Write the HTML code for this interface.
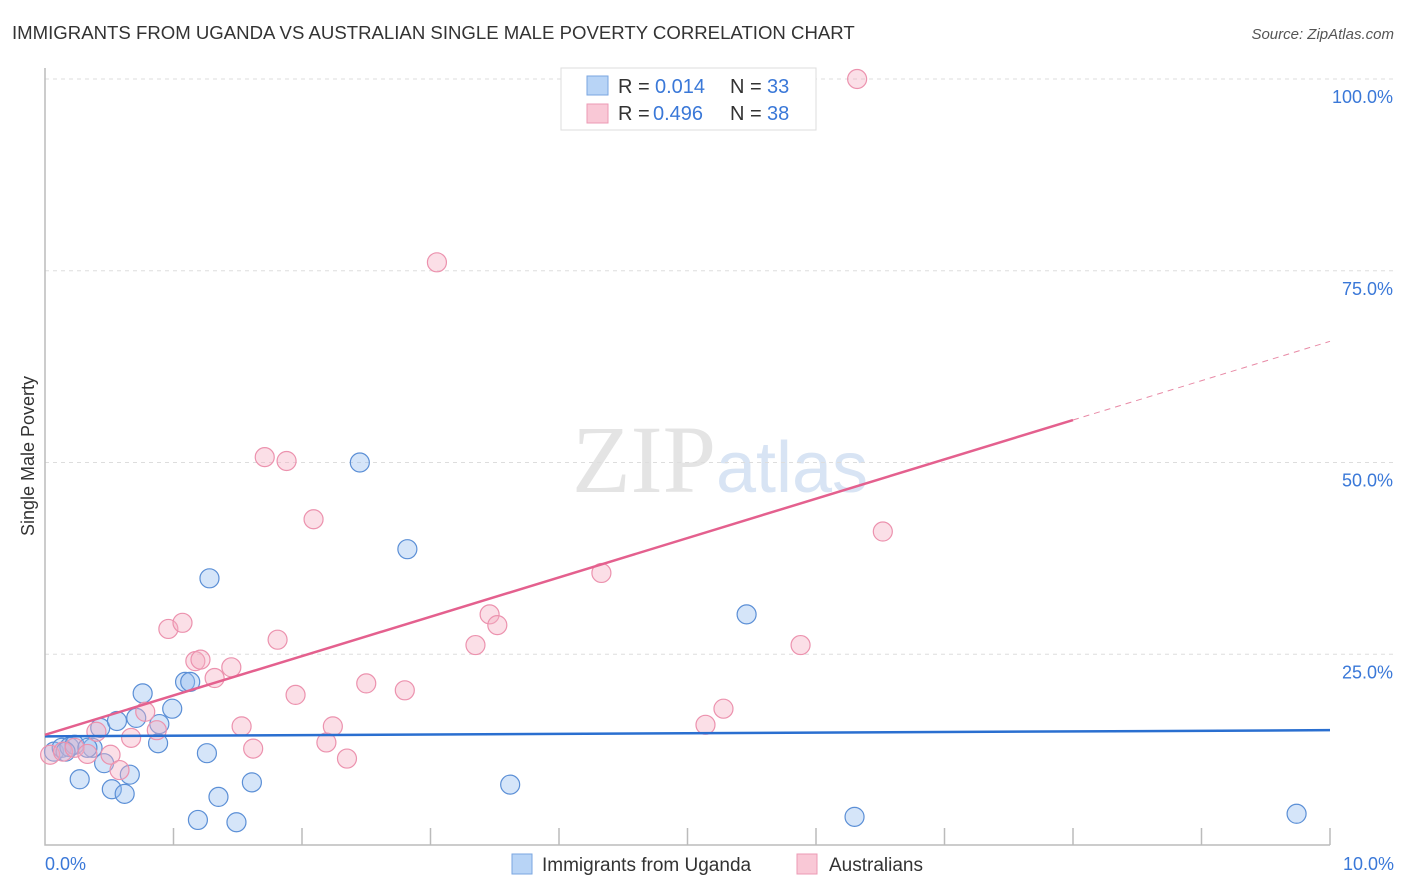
<!DOCTYPE html>
<html><head><meta charset="utf-8"><style>
body{margin:0;background:#fff;font-family:"Liberation Sans",sans-serif;}
svg{display:block}
</style></head><body>
<svg width="1406" height="892">
<text x="12" y="39" font-size="18.6" fill="#333">IMMIGRANTS FROM UGANDA VS AUSTRALIAN SINGLE MALE POVERTY CORRELATION CHART</text>
<text x="1394" y="39" font-size="15" fill="#555" font-style="italic" text-anchor="end">Source: ZipAtlas.com</text>
<text x="720" y="492" font-size="96" fill="#e4e4e4" text-anchor="middle" font-family="Liberation Serif,serif">ZIP<tspan fill="#d8e4f4" font-family="Liberation Sans,sans-serif" font-size="72">atlas</tspan></text>
<g id="grid"></g>
<g id="axes"></g>
<g id="marks"></g>
<text transform="translate(34,456) rotate(-90)" font-size="18" fill="#333" text-anchor="middle">Single Male Poverty</text>
<g>
<rect x="561" y="68" width="255" height="62" fill="#fff" stroke="#ddd"/>
<rect x="587" y="76" width="21" height="19" fill="#b8d4f6" stroke="#7aa6e0"/>
<rect x="587" y="104" width="21" height="19" fill="#f9c8d6" stroke="#ec9ab4"/>
<text x="618" y="93" font-size="20" fill="#333">R =</text>
<text x="655" y="93" font-size="20" fill="#3a78d8">0.014</text>
<text x="730" y="93" font-size="20" fill="#333">N =</text>
<text x="767" y="93" font-size="20" fill="#3a78d8">33</text>
<text x="618" y="120" font-size="20" fill="#333">R =</text>
<text x="653" y="120" font-size="20" fill="#3a78d8">0.496</text>
<text x="730" y="120" font-size="20" fill="#333">N =</text>
<text x="767" y="120" font-size="20" fill="#3a78d8">38</text>
</g>
<g>
<rect x="512" y="854" width="20" height="20" fill="#b8d4f6" stroke="#7aa6e0"/>
<text x="542" y="871" font-size="19" fill="#333">Immigrants from Uganda</text>
<rect x="797" y="854" width="20" height="20" fill="#f9c8d6" stroke="#ec9ab4"/>
<text x="829" y="871" font-size="19" fill="#333">Australians</text>
</g>
</svg>
<script>
const blueX=[0.07,0.13,0.19,0.23,0.27,0.37,0.43,0.46,0.52,0.56,0.62,0.66,0.71,0.76,0.88,0.89,0.99,1.09,1.13,1.26,1.28,1.35,1.49,1.61,1.19,2.45,2.82,3.62,5.46,6.30,9.74,0.16,0.33];
const blueY=[12.3,12.8,12.9,13.2,8.7,12.8,15.4,10.8,7.4,16.3,6.8,9.3,16.7,19.9,13.4,15.9,17.9,21.4,21.4,12.1,34.9,6.4,3.1,8.3,3.4,50.0,38.7,8.0,30.2,3.8,4.2,12.3,12.8];
const pinkX=[0.04,0.14,0.23,0.33,0.40,0.51,0.58,0.67,0.78,0.87,0.96,1.07,1.17,1.21,1.32,1.45,1.53,1.62,1.71,1.88,1.81,1.95,2.09,2.19,2.24,2.35,2.50,2.80,3.05,3.35,3.46,3.52,4.33,5.14,5.28,5.88,6.52,6.32];
const pinkY=[11.9,12.3,12.8,12.0,14.9,11.9,9.9,14.1,17.5,15.1,28.3,29.1,24.1,24.3,21.9,23.3,15.6,12.7,50.7,50.2,26.9,19.7,42.6,13.5,15.6,11.4,21.2,20.3,76.1,26.2,30.2,28.8,35.6,15.8,17.9,26.2,41.0,100.0];
const yTicks=[25,50,75,100];
const yTickLabels=["25.0%","50.0%","75.0%","100.0%"];
const blueTrend=[14.3,15.1];
const pinkTrend=[14.5,65.8];
const pinkSolidEnd=8.0;
const NS="http://www.w3.org/2000/svg";
const sx=v=>45+v*128.5, sy=v=>846-v*7.67;
function mk(tag,attrs,parent){const e=document.createElementNS(NS,tag);for(const k in attrs)e.setAttribute(k,attrs[k]);document.getElementById(parent).appendChild(e);return e;}
yTicks.forEach((t,i)=>{
 const l=mk('line',{x1:45,x2:1394,y1:sy(t),y2:sy(t),stroke:'#ddd','stroke-dasharray':'4,4'},'grid');
 
 
 const tx=mk('text',{x:1393,y:sy(t)+24,'font-size':18,fill:'#3a78d8','text-anchor':'end'},'grid');
 tx.textContent=yTickLabels[i];
 
 
});
const ax=mk('path',{d:'M45,68V845H1330',fill:'none',stroke:'#bbb','stroke-width':1.5},'axes');


for(let k=1;k<=10;k++){const t=mk('line',{x1:sx(k),x2:sx(k),y1:828,y2:845,stroke:'#bbb','stroke-width':1.5},'axes');
 
 }
[[0,"0.0%","start",45],[10,"10.0%","end",1394]].forEach(a=>{const t=mk('text',{x:a[3],y:870,'font-size':18,fill:'#3a78d8','text-anchor':a[2]},'axes');t.textContent=a[1];
 
 });
blueX.forEach((x,i)=>{const c=mk('circle',{cx:sx(x),cy:sy(blueY[i]),r:9.5,fill:'rgba(150,190,240,0.4)',stroke:'#5b8fd6','stroke-width':1.2},'marks');
 
 });
pinkX.forEach((x,i)=>{const c=mk('circle',{cx:sx(x),cy:sy(pinkY[i]),r:9.5,fill:'rgba(245,175,195,0.4)',stroke:'#ec92ae','stroke-width':1.2},'marks');
 
 });
const pv=x=>pinkTrend[0]+(pinkTrend[1]-pinkTrend[0])*x/10;
const bl=mk('line',{x1:sx(0),y1:sy(blueTrend[0]),x2:sx(10),y2:sy(blueTrend[1]),stroke:'#2a6fd0','stroke-width':2.5},'marks');


const pl=mk('line',{x1:sx(0),y1:sy(pv(0)),x2:sx(pinkSolidEnd),y2:sy(pv(pinkSolidEnd)),stroke:'#e4608e','stroke-width':2.5},'marks');


const pd=mk('line',{x1:sx(pinkSolidEnd),y1:sy(pv(pinkSolidEnd)),x2:sx(10),y2:sy(pv(10)),stroke:'#e88aa6','stroke-width':1,'stroke-dasharray':'6,5'},'marks');


</script>
</body></html>
